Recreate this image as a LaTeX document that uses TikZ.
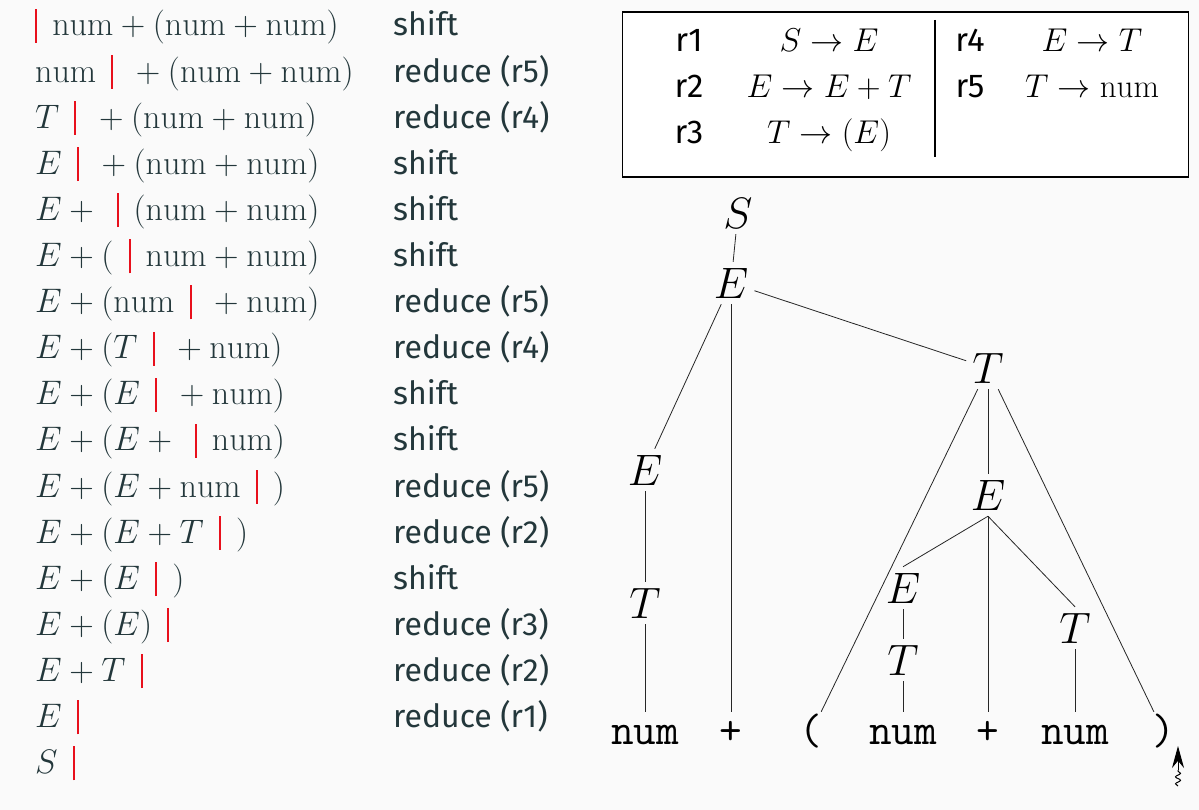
\RequirePackage{fix-cm}
\documentclass[tikz,border=0pt]{standalone}
\usepackage{fontspec}
\setsansfont{Fira Sans}
\usetikzlibrary{positioning,arrows.meta,decorations.pathmorphing}

\definecolor{bggray}{HTML}{FAFAFA}
\definecolor{darkteal}{HTML}{23373B}
\definecolor{stkred}{HTML}{E8101C}
\newcommand\stkbar{\mathord{\textcolor{stkred}{\rule[-0.2em]{2pt}{1.0em}}}}
\newcommand\stk{\mkern8mu\stkbar\mkern8mu}
\newcommand\nmb{\mathrm{num}}

\tikzset{
	stack/.style={anchor=base west, inner sep=0pt, text=darkteal, font=\fontsize{34}{40}\selectfont},
	action/.style={stack, font=\fontsize{32}{38}\selectfont\sffamily},
	rulelbl/.style={anchor=base, inner sep=0pt, font=\fontsize{33}{40}\selectfont\sffamily},
	prod/.style={anchor=base, inner sep=0pt, font=\fontsize{33}{40}\selectfont},
	sym/.style={inner sep=6pt, font=\fontsize{44}{50}\selectfont},
	leaf/.style={sym, anchor=base, text height=26pt, font=\fontsize{44}{50}\selectfont\ttfamily},
	edge/.style={draw=black!85, line width=0.8pt}
}

\begin{document}
\begin{tikzpicture}[x=1pt, y=-1pt]
	\fill[bggray] (0,0) rectangle (1199,810);
	\useasboundingbox (0,0) rectangle (1199,810);

	% parser steps
	\foreach \st/\act [count=\i] in {
		{\stkbar\mkern8mu\nmb+(\nmb+\nmb)}/{shift},
		{\nmb\stk+(\nmb+\nmb)}/{reduce (r5)},
		{T\stk+(\nmb+\nmb)}/{reduce (r4)},
		{E\stk+(\nmb+\nmb)}/{shift},
		{E+\stk(\nmb+\nmb)}/{shift},
		{E+(\stk\nmb+\nmb)}/{shift},
		{E+(\nmb\stk+\nmb)}/{reduce (r5)},
		{E+(T\stk+\nmb)}/{reduce (r4)},
		{E+(E\stk+\nmb)}/{shift},
		{E+(E+\stk\nmb)}/{shift},
		{E+(E+\nmb\stk)}/{reduce (r5)},
		{E+(E+T\stk)}/{reduce (r2)},
		{E+(E\stk)}/{shift},
		{E+(E)\stk}/{reduce (r3)},
		{E+T\stk}/{reduce (r2)},
		{E\stk}/{reduce (r1)},
		{S\stk}/{}}
	{
		\node[stack] (s\i) at (35,{36+46.1*(\i-1)}) {$\st$};
		\node[action] (a\i) at (393,{36+46.1*(\i-1)}) {\act};
	}

	% grammar
	\node[draw, line width=1.2pt, fill=white, minimum width=566pt, minimum height=165pt] (rules) at (905.5,94.5) {};
	\draw[line width=1.2pt] (935,20) -- (935,157);
	\node[rulelbl] (l1) at (689,52) {r1};
	\node[rulelbl] (l2) at (689,98) {r2};
	\node[rulelbl] (l3) at (689,144) {r3};
	\node[rulelbl] (l4) at (970,52) {r4};
	\node[rulelbl] (l5) at (970,98) {r5};
	\node[prod] (g1) at (829,52) {$S\to E$};
	\node[prod] (g2) at (829,98) {$E\to E+T$};
	\node[prod] (g3) at (829,144) {$T\to (E)$};
	\node[prod] (g4) at (1092,52) {$E\to T$};
	\node[prod] (g5) at (1092,98) {$T\to \mathrm{num}$};

	% parse tree
	\node[sym] (S) at (738,213) {$S$};
	\node[sym] (E) at (731,283) {$E$};
	\node[sym] (El) at (645,470) {$E$};
	\node[sym] (Tl) at (645,603) {$T$};
	\node[sym] (Tr) at (988,368) {$T$};
	\node[sym] (Em) at (988,495) {$E$};
	\node[sym] (Ei) at (903,588) {$E$};
	\node[sym] (Ti) at (903,660) {$T$};
	\node[sym] (Tn) at (1075,628) {$T$};
	\node[leaf] (n1) at (645,744) {num};
	\node[leaf] (p1) at (731,744) {+};
	\node[leaf] (lp) at (811,744) {(};
	\node[leaf] (n2) at (903,744) {num};
	\node[leaf] (p2) at (988,744) {+};
	\node[leaf] (n3) at (1075,744) {num};
	\node[leaf] (rp) at (1164,744) {)};

	\draw[edge] (S) -- (E);
	\draw[edge] (E) -- (El);
	\draw[edge] (E) -- (p1);
	\draw[edge] (E) -- (Tr);
	\draw[edge] (El) -- (Tl);
	\draw[edge] (Tl) -- (n1);
	\draw[edge] (Tr) -- (lp);
	\draw[edge] (Tr) -- (Em);
	\draw[edge] (Tr) -- (rp);
	\foreach \c in {Ei,p2,Tn}
		\draw[edge] (Em.south) -- (\c.north);
	\draw[edge] (Ei) -- (Ti);
	\draw[edge] (Ti) -- (n2);
	\draw[edge] (Tn) -- (n3);

	% pointer
	\coordinate (ptail) at (1178,786);
	\coordinate (pmid) at (1178,770);
	\coordinate (ptip) at (1178,746);
	\draw[decorate, decoration={snake, amplitude=2.5pt, segment length=7pt}, line width=1pt] (ptail) -- (pmid);
	\draw[-{Stealth[length=22pt, width=12pt]}, line width=1pt] (pmid) -- (ptip);
\end{tikzpicture}
\end{document}
